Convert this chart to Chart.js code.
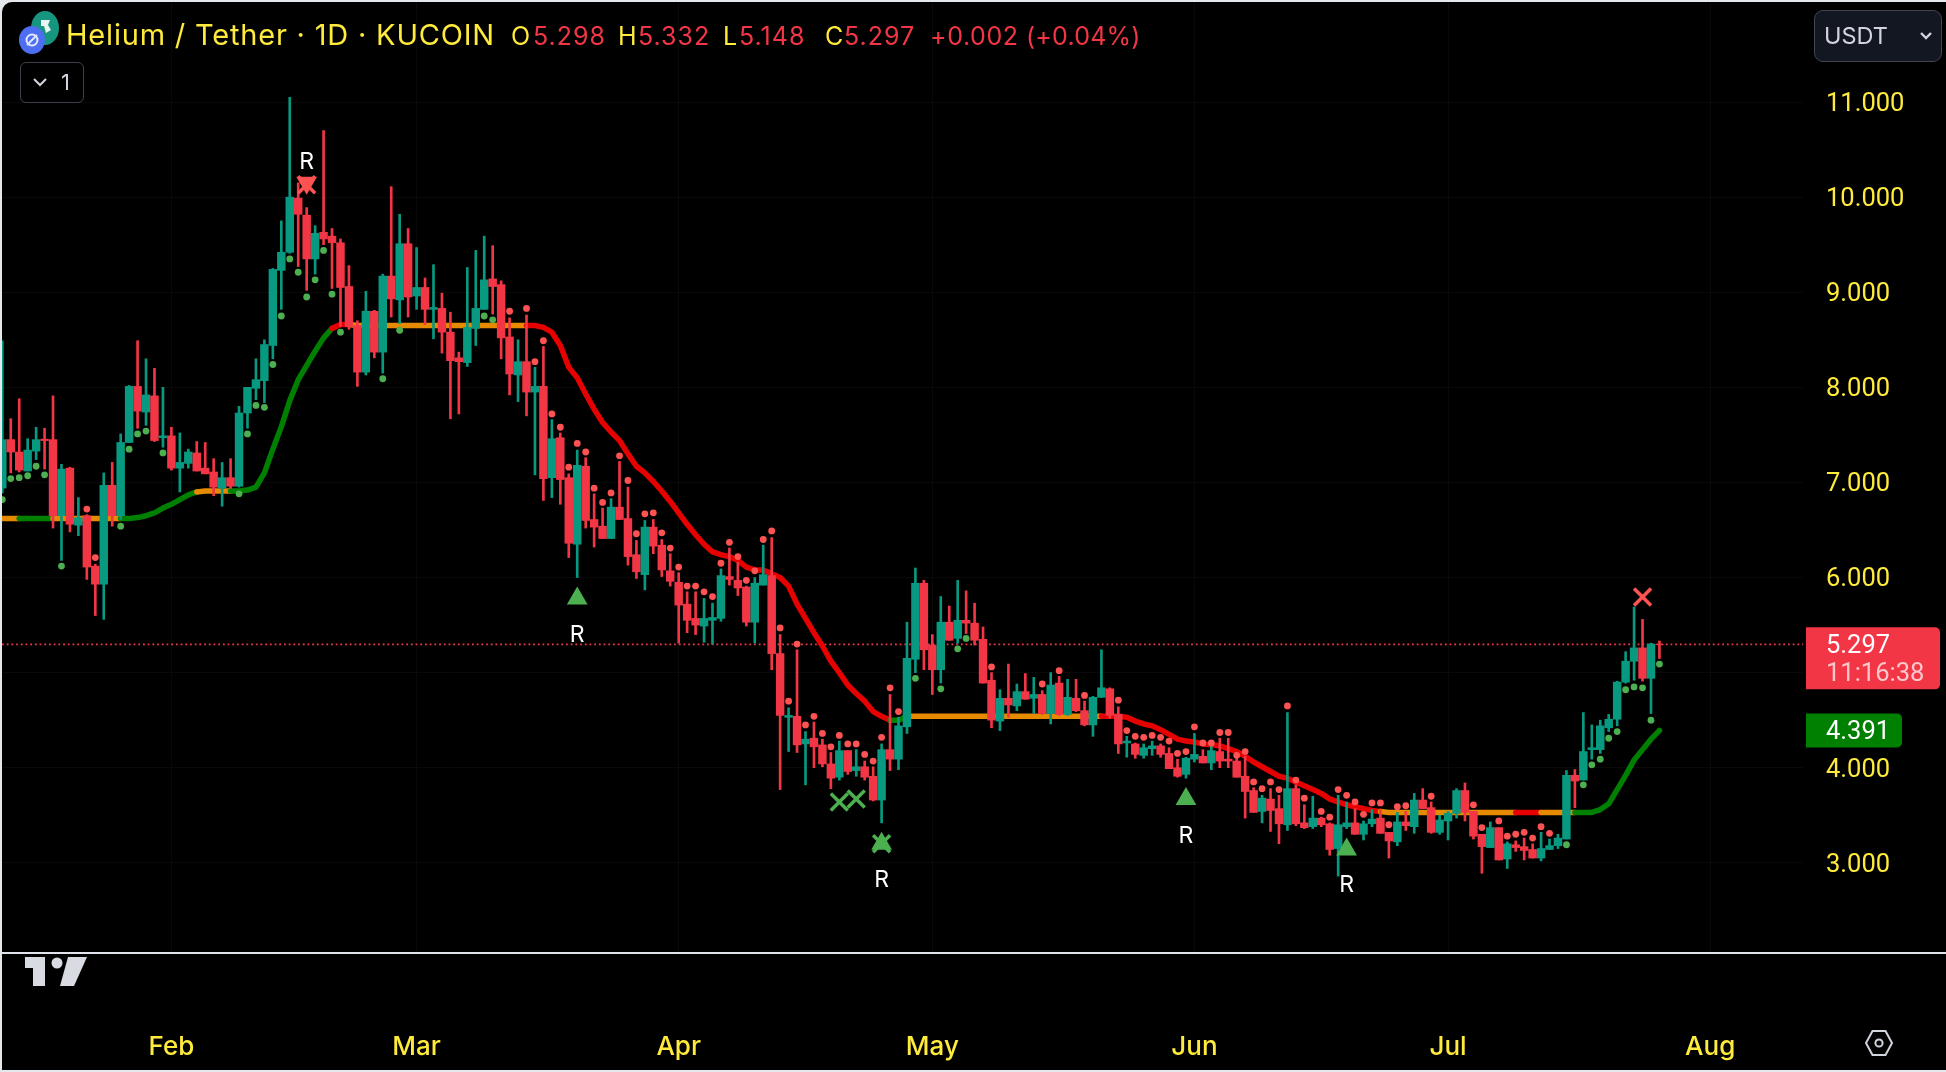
<!DOCTYPE html>
<html>
<head>
<meta charset="utf-8">
<title>Helium / Tether</title>
<script src="https://cdn.jsdelivr.net/npm/chart.js@4"></script>
<style>
  html, body { margin: 0; padding: 0; width: 1946px; height: 1072px; overflow: hidden; background: #e4e7ec; font-family: Inter, sans-serif; }
  #frame { position: absolute; left: 2px; top: 2px; width: 1944px; height: 1068px; background: #000; border-top-left-radius: 10px; }
  #chart { position: absolute; left: 0; top: 0; }
  .lbl { position: absolute; top: 20px; line-height: 32px; font-size: 25px; letter-spacing: 1px; white-space: nowrap; color: #f23645; }
  .y { color: #ffeb3b; }
  #title { position: absolute; left: 66px; top: 17px; line-height: 36px; font-size: 29px; letter-spacing: 0.8px; color: #ffeb3b; white-space: nowrap; }
  #folder { position: absolute; left: 20px; top: 62px; width: 62px; height: 39px; border: 1.5px solid #3c404b; border-radius: 6px; color: #d1d4dc; font-size: 22px; line-height: 39px; }
  #usdt { position: absolute; left: 1814px; top: 10px; width: 126px; height: 50px; border: 1.5px solid #434651; border-radius: 9px; background: #131722; color: #d1d4dc; font-size: 23.5px; line-height: 50px; }
  svg { position: absolute; }
</style>
</head>
<body>
<div id="frame"></div>
<canvas id="chart" width="1946" height="1072"></canvas>

<svg width="48" height="46" style="left:17px;top:11px">
  <ellipse cx="28" cy="17" rx="14" ry="17" fill="#16957f"/>
  <path d="M24 9 H33 L31 14 L34 19 L29 22 L27 15 H24 Z" fill="#e8f5f1"/>
  <ellipse cx="15" cy="29" rx="13" ry="14" fill="#4e6ef2"/>
  <circle cx="15" cy="29" r="5.5" fill="none" stroke="#e3e8ff" stroke-width="2"/>
  <path d="M10 34 L20 24" stroke="#e3e8ff" stroke-width="2"/>
</svg>
<div id="title">Helium / Tether · 1D · KUCOIN</div>
<span class="lbl y" style="left:511px">O</span><span class="lbl" style="left:533px">5.298</span>
<span class="lbl y" style="left:618px">H</span><span class="lbl" style="left:638px">5.332</span>
<span class="lbl y" style="left:723px">L</span><span class="lbl" style="left:739px">5.148</span>
<span class="lbl y" style="left:825px">C</span><span class="lbl" style="left:844px">5.297</span>
<span class="lbl" style="left:930px;letter-spacing:.6px">+0.002</span><span class="lbl" style="left:1026px;letter-spacing:.2px">(+0.04%)</span>

<div id="folder"><svg width="20" height="12" style="left:11px;top:14px"><path d="M2 2 L8 8 L14 2" fill="none" stroke="#d1d4dc" stroke-width="2"/></svg><span style="position:absolute;left:40px">1</span></div>
<div id="usdt"><span style="position:absolute;left:9px">USDT</span><svg width="16" height="10" style="left:104px;top:20px"><path d="M2 2 L7 7 L12 2" fill="none" stroke="#d1d4dc" stroke-width="2.4"/></svg></div>

<svg width="70" height="36" style="left:22px;top:954px">
  <path d="M3 3 H23 V32 H11 V14 H3 Z" fill="#d8dbe2"/>
  <circle cx="35" cy="9" r="5.5" fill="#d8dbe2"/>
  <path d="M46 3 H65 L52 32 H38 Z" fill="#d8dbe2"/>
</svg>
<svg width="32" height="32" style="left:1863px;top:1027px">
  <path d="M9.5 4 H22.5 L29 16 L22.5 28 H9.5 L3 16 Z" fill="none" stroke="#d1d4dc" stroke-width="2"/>
  <circle cx="16" cy="16" r="3.6" fill="none" stroke="#d1d4dc" stroke-width="2"/>
</svg>

<script>
const opens = [6.94,7.45,7.32,7.12,7.33,7.455,7.45,6.65,7.15,6.55,6.65,6.12,5.93,6.97,6.65,7.42,8.01,7.74,7.91,7.47,
  7.49,7.15,7.20,7.31,7.15,7.11,6.94,7.05,6.96,7.73,7.99,8.07,8.44,9.23,9.42,9.99,9.81,9.35,9.63,9.59,
  9.52,9.06,8.65,8.16,8.80,8.37,9.17,8.92,9.51,8.96,9.05,8.82,8.83,8.58,8.31,8.26,8.62,8.82,9.14,9.08,
  8.53,8.13,8.27,7.95,8.01,7.05,7.47,7.05,6.35,7.17,6.61,6.54,6.41,6.74,6.62,6.24,6.03,6.53,6.34,6.07,
  5.95,5.72,5.57,5.49,5.55,5.57,6.01,5.97,5.90,5.53,5.92,6.02,5.20,4.53,4.54,4.25,4.31,4.24,4.04,3.90,
  4.18,3.97,4.01,3.91,3.66,4.19,4.09,4.43,5.14,5.94,5.29,5.03,5.53,5.36,5.55,5.52,5.35,4.92,4.49,4.73,
  4.65,4.80,4.73,4.77,4.57,4.89,4.56,4.73,4.60,4.45,4.74,4.83,4.56,4.26,4.25,4.13,4.20,4.23,4.15,4.00,
  3.93,4.09,4.12,4.05,4.17,4.09,4.07,3.91,3.76,3.54,3.67,3.57,3.40,3.78,3.42,3.38,3.47,3.41,3.15,3.38,
  3.42,3.30,3.41,3.47,3.32,3.22,3.43,3.38,3.66,3.58,3.32,3.44,3.52,3.76,3.54,3.30,3.16,3.37,3.04,3.19,
  3.17,3.14,3.05,3.14,3.18,3.25,3.92,3.87,4.19,4.19,4.42,4.51,4.90,5.12,5.26,4.94,5.298];
const highs = [8.49,7.67,7.88,7.46,7.58,7.57,7.91,7.19,7.16,6.84,6.66,6.14,7.10,7.21,7.51,8.02,8.49,8.30,8.20,8.00,
  7.58,7.52,7.35,7.43,7.42,7.25,7.21,7.25,7.80,8.00,8.30,8.50,9.25,9.75,11.05,10.15,9.89,9.70,10.70,9.67,
  9.56,9.28,8.70,9.01,8.81,9.19,10.11,9.82,9.67,9.47,9.15,9.29,8.99,8.79,8.37,9.26,9.44,9.59,9.49,9.12,
  8.73,8.50,8.76,8.21,8.43,7.66,7.52,7.09,7.34,7.26,6.88,6.73,6.83,7.22,6.95,6.39,6.60,6.61,6.40,6.25,
  6.05,5.85,5.85,5.78,5.73,6.09,6.31,6.16,5.91,6.00,6.34,6.42,5.40,4.63,5.24,4.38,4.48,4.30,4.16,4.28,
  4.18,4.19,4.07,4.01,4.25,4.77,4.53,5.53,6.10,5.97,5.40,5.80,5.70,5.97,5.86,5.73,5.48,5.00,4.82,5.09,
  4.88,4.99,4.95,4.81,5.00,4.96,4.93,4.93,4.70,4.75,5.24,4.84,4.64,4.33,4.26,4.25,4.28,4.25,4.21,4.09,
  4.11,4.36,4.19,4.26,4.31,4.31,4.13,4.12,3.79,3.71,3.78,3.71,4.58,3.82,3.61,3.70,3.48,3.42,3.71,3.64,
  3.57,3.44,3.56,3.56,3.32,3.53,3.54,3.73,3.78,3.64,3.50,3.54,3.78,3.84,3.54,3.30,3.43,3.37,3.22,3.23,
  3.26,3.20,3.32,3.25,3.30,3.97,3.98,4.58,4.45,4.50,4.56,4.91,5.22,5.69,5.56,5.31,5.332];
const lows = [6.89,7.10,7.11,7.12,7.24,7.14,6.52,6.18,6.48,6.44,5.98,5.60,5.56,6.54,6.61,7.42,7.57,7.60,7.43,7.37,
  7.13,6.90,7.15,7.12,7.09,6.86,6.75,6.94,6.95,7.57,7.87,7.84,8.30,8.82,9.41,9.27,9.02,9.19,9.50,9.04,
  8.64,8.61,8.01,8.13,8.31,8.15,8.74,8.67,8.74,8.82,8.66,8.51,8.36,7.67,7.72,8.22,8.44,8.82,8.77,8.30,
  7.92,7.85,7.70,7.08,6.81,6.84,6.77,6.21,6.00,6.52,6.32,6.41,6.41,6.61,6.13,5.99,5.87,6.25,6.01,5.91,
  5.31,5.42,5.40,5.32,5.30,5.54,5.92,5.81,5.49,5.31,5.92,5.03,3.77,4.17,4.16,3.82,4.00,4.01,3.78,3.87,
  3.93,3.91,3.87,3.65,3.42,3.97,3.98,4.36,5.00,5.03,4.77,4.89,5.34,5.31,5.41,5.29,4.89,4.42,4.39,4.53,
  4.60,4.72,4.57,4.56,4.46,4.55,4.55,4.59,4.44,4.33,4.74,4.52,4.15,4.11,4.10,4.10,4.13,4.11,3.99,3.90,
  3.89,4.06,4.05,3.98,4.00,4.00,3.90,3.47,3.53,3.42,3.33,3.20,3.34,3.39,3.36,3.36,3.38,3.08,2.86,3.36,
  3.30,3.24,3.38,3.31,3.05,3.18,3.34,3.31,3.57,3.31,3.30,3.24,3.47,3.44,3.25,2.89,3.16,3.03,2.94,3.12,
  3.03,3.05,3.02,3.14,3.15,3.25,3.58,3.87,4.09,4.15,4.38,4.44,4.89,4.92,4.91,4.57,5.148];
const closes = [7.45,7.32,7.13,7.34,7.45,7.44,6.65,7.14,6.56,6.63,6.11,5.93,6.97,6.65,7.42,8.01,7.75,7.92,7.44,7.49,
  7.15,7.21,7.32,7.12,7.09,6.95,7.05,6.96,7.73,8.00,8.08,8.45,9.24,9.42,10.00,9.82,9.35,9.62,9.56,9.52,
  9.05,8.64,8.16,8.80,8.37,9.17,8.93,9.51,8.95,9.05,8.82,8.84,8.58,8.28,8.27,8.63,8.83,9.13,9.06,8.52,
  8.14,8.27,7.95,8.01,7.04,7.46,7.03,6.36,7.18,6.60,6.53,6.41,6.74,6.61,6.22,6.06,6.53,6.33,6.08,5.96,
  5.71,5.55,5.50,5.57,5.58,6.02,5.98,5.89,5.53,5.94,6.03,5.20,4.55,4.55,4.24,4.30,4.22,4.04,3.89,4.18,
  3.96,4.01,3.90,3.66,4.19,4.09,4.44,5.15,5.94,5.24,5.03,5.53,5.34,5.55,5.52,5.34,4.89,4.50,4.73,4.66,
  4.80,4.72,4.77,4.57,4.87,4.56,4.74,4.60,4.45,4.74,4.84,4.55,4.25,4.28,4.14,4.21,4.23,4.14,3.99,3.91,
  4.10,4.14,4.05,4.18,4.07,4.07,3.90,3.75,3.53,3.68,3.55,3.41,3.78,3.41,3.37,3.47,3.40,3.14,3.40,3.42,
  3.30,3.41,3.46,3.31,3.23,3.43,3.39,3.66,3.57,3.32,3.45,3.52,3.76,3.53,3.28,3.17,3.37,3.03,3.20,3.16,
  3.13,3.05,3.15,3.18,3.26,3.92,3.86,4.17,4.21,4.44,4.51,4.90,5.12,5.26,4.94,5.30,5.297];

// trend line under the candles
const trend = [6.62,6.62,6.62,6.62,6.62,6.62,6.62,6.62,6.62,6.62,6.62,6.62,6.62,6.62,6.62,6.62,6.63,6.65,6.68,6.73,
  6.77,6.82,6.87,6.90,6.91,6.91,6.91,6.91,6.91,6.92,6.95,7.10,7.35,7.585,7.86,8.08,8.23,8.38,8.52,8.62,
  8.66,8.66,8.65,8.65,8.65,8.65,8.65,8.65,8.65,8.65,8.65,8.65,8.65,8.65,8.65,8.65,8.65,8.65,8.65,8.65,
  8.65,8.65,8.65,8.65,8.63,8.58,8.44,8.21,8.10,7.93,7.77,7.63,7.53,7.44,7.30,7.17,7.10,7.01,6.91,6.80,
  6.68,6.56,6.45,6.35,6.27,6.24,6.22,6.18,6.11,6.08,6.08,6.04,6.00,5.91,5.72,5.57,5.42,5.28,5.12,5.00,
  4.87,4.78,4.70,4.59,4.54,4.50,4.50,4.54,4.54,4.54,4.54,4.54,4.54,4.54,4.54,4.54,4.54,4.54,4.54,4.54,
  4.54,4.54,4.54,4.54,4.54,4.54,4.54,4.54,4.54,4.54,4.54,4.54,4.54,4.53,4.49,4.46,4.44,4.40,4.35,4.30,
  4.28,4.27,4.25,4.24,4.23,4.20,4.17,4.12,4.06,4.01,3.96,3.91,3.89,3.85,3.81,3.77,3.73,3.67,3.64,3.61,
  3.59,3.57,3.55,3.54,3.53,3.53,3.53,3.53,3.53,3.53,3.53,3.53,3.53,3.53,3.53,3.53,3.53,3.53,3.53,3.53,
  3.53,3.53,3.53,3.53,3.53,3.53,3.53,3.53,3.53,3.56,3.62,3.77,3.92,4.08,4.19,4.30,4.391];
const trendRunStart = [0,3,7,15,24,28,40,42,45,46,63,106,108,131,164,180,183,187];
const trendRunColor = ['#e68a00','#008000','#e68a00','#008000','#e68a00','#008000','#e60000','#e68a00','#008000','#e68a00','#e60000','#008000','#e68a00','#e60000','#e68a00','#e60000','#e68a00','#008000'];

const greenDotX = [0,1,2,3,4,5,7,14,15,16,17,19,28,29,30,31,32,33,34,35,36,37,38,39,40,45,47,57,58,108,111,113,114,185,187,188,189,190,191,192,193,194,195,196];
const greenDotY = [6.82,7.04,7.05,7.07,7.17,7.08,6.12,6.54,7.35,7.51,7.54,7.31,6.88,7.51,7.81,7.79,8.24,8.75,9.35,9.21,8.95,9.13,9.44,8.98,8.58,8.09,8.60,8.75,8.71,4.94,4.83,5.25,5.36,3.19,3.82,4.03,4.09,4.31,4.38,4.82,4.85,4.84,4.50,5.09];
const redDotX = [10,11,60,62,63,64,65,66,67,68,69,70,71,72,73,74,75,76,77,78,79,80,81,82,83,84,85,86,87,88,89,90,91,92,93,94,95,96,97,98,99,100,101,102,103,104,105,106,117,123,125,128,132,133,134,135,136,137,138,139,140,141,142,143,144,145,146,147,148,149,150,151,152,153,154,156,157,158,159,160,161,162,163,164,165,166,169,174,175,177,178,179,180,181,182,183];
const redDotY = [6.72,6.21,8.80,8.83,8.27,8.49,7.72,7.58,7.16,7.41,7.32,6.94,6.79,6.89,7.28,7.02,6.46,6.67,6.68,6.47,6.31,6.11,5.91,5.91,5.85,5.80,6.15,6.37,6.22,5.97,6.07,6.40,6.49,5.47,4.70,5.30,4.45,4.54,4.36,4.22,4.34,4.25,4.25,4.14,4.07,4.32,4.84,4.59,5.06,4.88,5.02,4.76,4.71,4.39,4.33,4.32,4.34,4.32,4.28,4.15,4.17,4.43,4.26,4.26,4.37,4.37,4.13,4.17,3.85,3.78,3.85,3.77,4.65,3.87,3.68,3.54,3.48,3.77,3.71,3.64,3.51,3.63,3.63,3.40,3.59,3.60,3.70,3.61,3.37,3.44,3.28,3.30,3.32,3.26,3.38,3.31];

const triUpX = [68,104,140,159];
const triUpY = [5.78,3.20,3.67,3.14];
const triDownX = [36];
const triDownY = [10.15];
const greenCrossX = [99,101,104];
const greenCrossY = [3.64,3.67,3.20];
const redCrossX = [36,194];
const redCrossY = [10.13,5.795];
const rLabelX = [36,68,104,140,159];
const rLabelY = [10.37,5.395,2.82,3.285,2.765];

const monthTicks = [20,49,80,110,141,171,202];
const monthLabels = ['Feb','Mar','Apr','May','Jun','Jul','Aug'];
const priceTicks = [3,4,5,6,7,8,9,10,11];
const lastPrice = 5.297;
const countdown = '11:16:38';
const trendLast = 4.391;

const UP = '#089981', DOWN = '#f23645', YELLOW = '#ffeb3b', GRID = '#090909';
const candleColors = opens.map((o, i) => closes[i] >= o ? UP : DOWN);
const pts = (xs, ys) => xs.map((x, i) => ({ x: x, y: ys[i] }));

function trendColor(i) {
  let c = trendRunColor[0];
  trendRunStart.forEach((s, k) => { if (i >= s) c = trendRunColor[k]; });
  return c;
}

// keep the plot area where it is in the picture, no room for tick overflow
function noMargins(s) {
  s.paddingLeft = s.paddingRight = s.paddingTop = s.paddingBottom = 0;
}

// R letters and the price pills on the right
const overlays = {
  id: 'overlays',
  afterDatasetsDraw(chart) {
    const { ctx, scales: { x, y } } = chart;
    ctx.save();
    ctx.fillStyle = '#fff';
    ctx.font = '23px Inter';
    ctx.textAlign = 'center';
    ctx.textBaseline = 'middle';
    rLabelX.forEach((v, i) => ctx.fillText('R', x.getPixelForValue(v), y.getPixelForValue(rLabelY[i])));

    const py = y.getPixelForValue(lastPrice);
    ctx.fillStyle = DOWN;
    ctx.beginPath();
    ctx.roundRect(1806, py - 17, 134, 62, [0, 5, 5, 0]);
    ctx.fill();
    ctx.fillStyle = '#008000';
    const gy = y.getPixelForValue(trendLast);
    ctx.beginPath();
    ctx.roundRect(1806, gy - 17, 96, 34, [0, 5, 5, 0]);
    ctx.fill();
    ctx.font = '25.5px Roboto';
    ctx.textAlign = 'left';
    ctx.fillStyle = '#fff';
    ctx.fillText(lastPrice.toFixed(3), 1826, py + 2);
    ctx.fillText(trendLast.toFixed(3), 1826, gy + 2);
    ctx.fillStyle = 'rgba(255,255,255,0.72)';
    ctx.fillText(countdown, 1826, py + 30);

    ctx.fillStyle = '#e0e3eb';
    ctx.fillRect(2, 952, 1944, 2);
    ctx.restore();
  }
};

new Chart(document.getElementById('chart'), {
  type: 'line',
  plugins: [overlays],
  data: {
    datasets: [
      { type: 'scatter', order: 0, data: pts(redCrossX, redCrossY), pointStyle: 'crossRot', pointRadius: 12, pointBorderColor: '#ff5252', pointBorderWidth: 3.5 },
      { type: 'scatter', order: 0, data: pts(greenCrossX, greenCrossY), pointStyle: 'crossRot', pointRadius: 12, pointBorderColor: '#4caf50', pointBorderWidth: 3.5 },
      { type: 'scatter', order: 0, data: pts(triUpX, triUpY), pointStyle: 'triangle', pointRadius: 12, pointBackgroundColor: '#4caf50', pointBorderWidth: 0 },
      { type: 'scatter', order: 0, data: pts(triDownX, triDownY), pointStyle: 'triangle', pointRotation: 180, pointRadius: 12, pointBackgroundColor: '#ff5252', pointBorderWidth: 0 },
      { type: 'scatter', order: 1, data: pts(redDotX, redDotY), pointRadius: 3.4, pointBackgroundColor: '#ff5252', pointBorderWidth: 0 },
      { type: 'scatter', order: 1, data: pts(greenDotX, greenDotY), pointRadius: 3.4, pointBackgroundColor: '#4caf50', pointBorderWidth: 0 },
      { type: 'bar', order: 2, grouped: false, barThickness: 7.8, borderWidth: 0, backgroundColor: candleColors,
        data: opens.map((o, i) => ({ x: i, y: [o, closes[i]] })) },
      { type: 'bar', order: 3, grouped: false, barThickness: 2, borderWidth: 0, backgroundColor: candleColors,
        data: opens.map((o, i) => ({ x: i, y: [lows[i], highs[i]] })) },
      { type: 'line', order: 4, data: trend.map((v, i) => ({ x: i, y: v })), pointRadius: 0, borderWidth: 5.5, tension: 0,
        borderCapStyle: 'round', borderJoinStyle: 'round',
        borderColor: trendRunColor[0],
        segment: { borderColor: c => trendColor(c.p1DataIndex) } },
      { type: 'line', order: 5, data: [{ x: -0.035, y: lastPrice }, { x: 212.98, y: lastPrice }], pointRadius: 0, borderWidth: 1.6,
        borderColor: DOWN, borderDash: [1.8, 2.9] }
    ]
  },
  options: {
    responsive: false,
    animation: false,
    events: [],
    layout: { autoPadding: false, padding: { left: 2, top: 2, right: 0, bottom: 0 } },
    plugins: { legend: { display: false }, tooltip: { enabled: false } },
    scales: {
      x: {
        type: 'linear', offset: false, min: -0.035, max: 212.98,
        grid: { offset: false, color: GRID, drawTicks: false },
        border: { display: false },
        afterBuildTicks: s => { s.ticks = monthTicks.map(v => ({ value: v })); },
        afterFit: s => { s.height = 118; noMargins(s); },
        ticks: { autoSkip: false, maxRotation: 0, color: YELLOW, padding: 78, font: { family: 'Inter', size: 26, weight: '500' },
          callback: v => monthLabels[monthTicks.indexOf(v)] }
      },
      y: {
        position: 'right', min: 2.041, max: 12.052,
        grid: { color: GRID, drawTicks: false },
        border: { display: false },
        afterBuildTicks: s => { s.ticks = priceTicks.map(v => ({ value: v })); },
        afterFit: s => { s.width = 143; noMargins(s); },
        ticks: { color: YELLOW, padding: 23, labelOffset: 2.5, font: { family: 'Roboto', size: 25.5 }, callback: v => v.toFixed(3) }
      }
    }
  }
});
</script>
</body>
</html>
